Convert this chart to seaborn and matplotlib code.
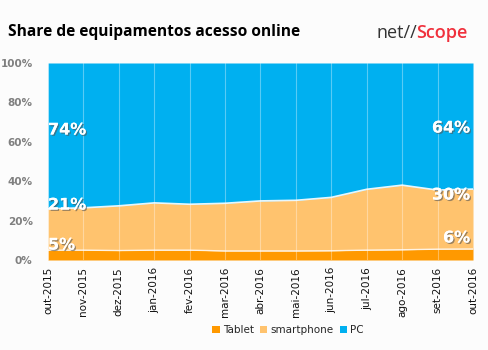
import matplotlib
matplotlib.use("Agg")
import matplotlib.pyplot as plt
import matplotlib.patheffects as pe
from matplotlib.patches import Patch
import numpy as np
import pandas as pd
import seaborn as sns

months = ["out-2015", "nov-2015", "dez-2015", "jan-2016", "fev-2016", "mar-2016",
          "abr-2016", "mai-2016", "jun-2016", "jul-2016", "ago-2016", "set-2016", "out-2016"]
tablet = [5.0, 5.0, 4.8, 5.0, 5.0, 4.6, 4.6, 4.6, 4.7, 5.0, 5.2, 5.5, 5.6]
smartphone = [21.0, 21.5, 22.7, 24.0, 23.3, 24.2, 25.4, 25.7, 27.1, 30.9, 32.8, 30.0, 30.4]
pc = [100 - t - s for t, s in zip(tablet, smartphone)]
series_names = ["Tablet", "smartphone", "PC"]
yticks = [0, 20, 40, 60, 80, 100]
ytick_labels = ["0%", "20%", "40%", "60%", "80%", "100%"]
first_labels = ["5%", "21%", "74%"]
last_labels = ["6%", "30%", "64%"]

colors = ["#ff9900", "#ffc36e", "#00b0f0"]

sns.set_theme(style="white")
plt.rcParams["font.family"] = ["DejaVu Sans"]

fig = plt.figure(figsize=(4.89, 3.5), dpi=100, facecolor="#fcfcfc")
ax = fig.add_axes([48 / 489, 1 - 260 / 350, 425 / 489, 197 / 350])
ax.set_facecolor("#fcfcfc")

x = np.arange(len(months))
df = pd.DataFrame({"x": x, "Tablet": tablet, "smartphone": smartphone, "PC": pc})
ax.stackplot(df["x"], df["Tablet"], df["smartphone"], df["PC"], colors=colors,
             linewidth=0)
cum1 = df["Tablet"]
cum2 = df["Tablet"] + df["smartphone"]
sns.lineplot(x=df["x"], y=cum1, ax=ax, color="white", lw=1.0, alpha=0.8)
sns.lineplot(x=df["x"], y=cum2, ax=ax, color="white", lw=1.2, alpha=0.9)

for xi in x:
    ax.axvline(xi, color="white", lw=0.8, alpha=0.35, zorder=3)

ax.set_xlim(0, len(months) - 1)
ax.set_ylim(0, 100)
ax.set_xticks(x)
ax.set_xticklabels(months, rotation=90, fontsize=7.5, color="#111111")
ax.set_yticks(yticks)
ax.set_yticklabels(ytick_labels, fontsize=7.5, color="#7f7f7f", fontweight="bold")
ax.set_xlabel("")
ax.set_ylabel("")
ax.tick_params(axis="y", length=0, pad=11)
ax.tick_params(axis="x", length=0, pad=5)
for s in ax.spines.values():
    s.set_visible(False)

shadow = [pe.withSimplePatchShadow(offset=(1, -1), shadow_rgbFace="#555555", alpha=0.6), pe.Normal()]
ypos_first = [7.6, 27.9, 66.0]
ypos_last = [11.2, 33.0, 67.0]
for lab, y in zip(first_labels, ypos_first):
    ax.text(0.0, y, lab, color="white", fontsize=11.5, fontweight="bold",
            ha="left", va="center", path_effects=shadow, zorder=5)
for lab, y in zip(last_labels, ypos_last):
    ax.text(len(months) - 1 - 0.08, y, lab, color="white", fontsize=11.5, fontweight="bold",
            ha="right", va="center", path_effects=shadow, zorder=5)

fig.text(8 / 489, 1 - 32 / 350, "Share de equipamentos acesso online", fontsize=11.2,
         fontweight="bold", family="Open Sans", ha="left", va="center", color="#000000")
fig.text(377 / 489, 1 - 33 / 350, "net//", fontsize=13, family="Open Sans",
         ha="left", va="center", color="#333333")
fig.text(416 / 489, 1 - 33 / 350, "Scope", fontsize=13, family="Open Sans", fontweight="semibold",
         ha="left", va="center", color="#f0303c")

handles = [Patch(facecolor=c, edgecolor="none") for c in colors]
fig.legend(handles, series_names, loc="center", bbox_to_anchor=(288 / 489, 1 - 330 / 350),
           ncol=3, frameon=False, fontsize=7.5, handlelength=0.7, handleheight=0.7,
           handletextpad=0.3, columnspacing=0.6)

fig.savefig("out.png", dpi=100, facecolor=fig.get_facecolor())
